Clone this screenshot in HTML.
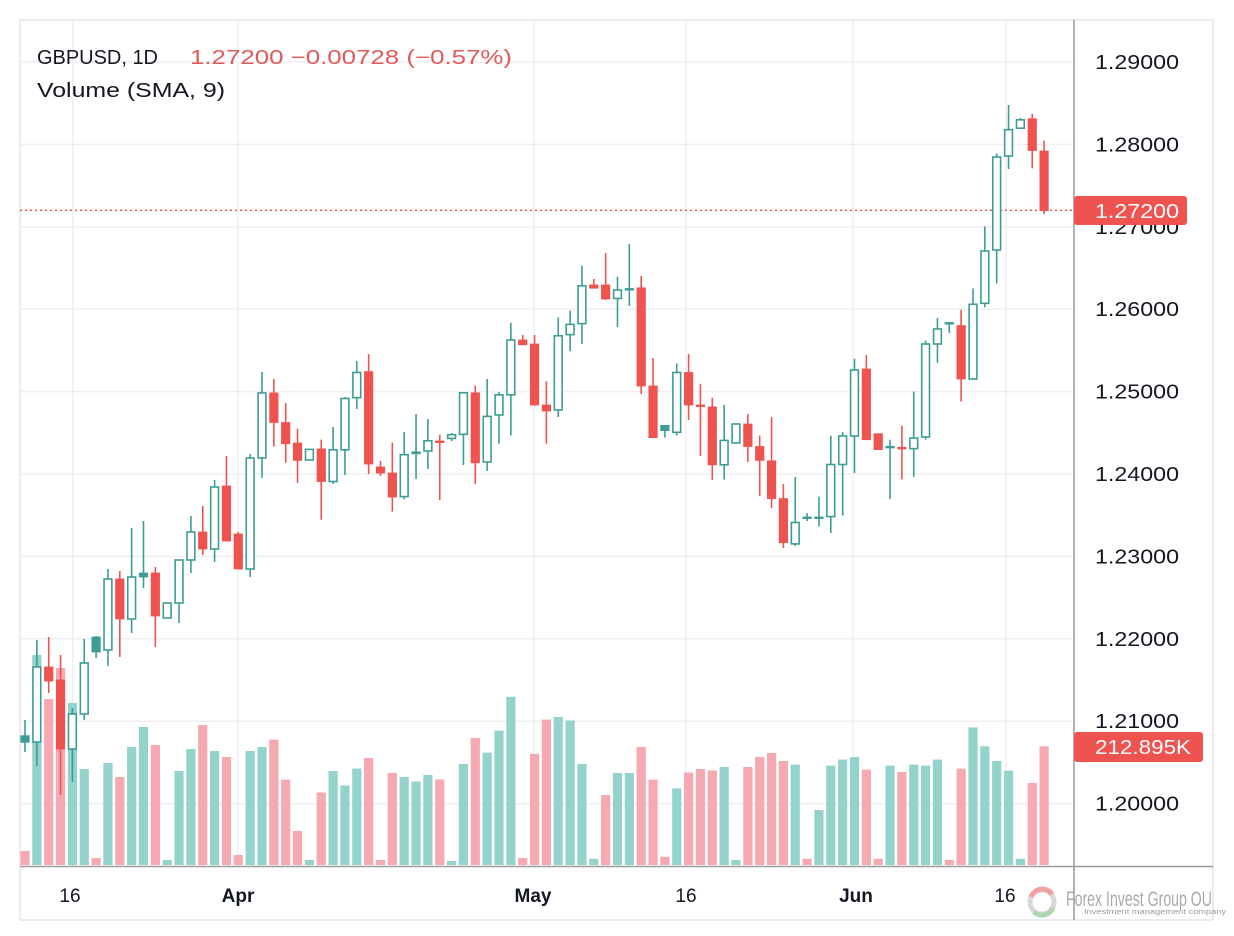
<!DOCTYPE html>
<html><head><meta charset="utf-8"><style>
html,body{margin:0;padding:0;background:#fff;}
svg{display:block;font-family:"Liberation Sans",sans-serif;}
</style></head><body>
<svg id="c" width="1234" height="936" xmlns="http://www.w3.org/2000/svg">
<rect width="1234" height="936" fill="#fff"/>
<g id="grid" stroke="#efefef" stroke-width="1.5"></g>
<rect x="20" y="20" width="1193" height="900" fill="none" stroke="#e6e6e6" stroke-width="1.5"/>
<g id="vol"></g>
<line x1="20" y1="210.3" x2="1074" y2="210.3" stroke="#e05050" stroke-width="1.3" stroke-dasharray="2,3"/>
<g id="cdl"></g>
<line x1="1074" y1="20" x2="1074" y2="920" stroke="#9a9a9a" stroke-width="1.5"/>
<line x1="20" y1="866.5" x2="1213" y2="866.5" stroke="#9a9a9a" stroke-width="1.5"/>
<g id="ax" font-size="20" fill="#131722"></g>
<rect x="1074" y="196" width="113" height="29" rx="3" fill="#ef5350"/>
<text x="1095" y="218" font-size="20" fill="#fff" textLength="84" lengthAdjust="spacingAndGlyphs">1.27200</text>
<rect x="1074" y="732" width="129" height="30" rx="3" fill="#ef5350"/>
<text x="1095" y="754" font-size="20" fill="#fff" textLength="96" lengthAdjust="spacingAndGlyphs">212.895K</text>
<g font-size="19" fill="#131722" text-anchor="middle">
<text x="70" y="902">16</text>
<text x="238" y="902" font-weight="bold">Apr</text>
<text x="533" y="902" font-weight="bold">May</text>
<text x="686" y="902">16</text>
<text x="856" y="902" font-weight="bold">Jun</text>
<text x="1005" y="902">16</text>
</g>
<text x="37" y="64" font-size="20" fill="#131722" textLength="121" lengthAdjust="spacingAndGlyphs">GBPUSD, 1D</text>
<text x="190" y="64" font-size="20" fill="#e05a5a" textLength="322" lengthAdjust="spacingAndGlyphs">1.27200  −0.00728 (−0.57%)</text>
<text x="37" y="97" font-size="20" fill="#131722" textLength="188" lengthAdjust="spacingAndGlyphs">Volume (SMA, 9)</text>
<g opacity="0.8">
<circle cx="1042" cy="902" r="12" fill="none" stroke="#cfcfcf" stroke-width="5"/>
<path d="M1031 897 A12 12 0 0 1 1052 894" fill="none" stroke="#e88" stroke-width="5"/>
<path d="M1053 908 A12 12 0 0 1 1034 912" fill="none" stroke="#9c9" stroke-width="5"/>
</g>
<text x="1066" y="906" font-size="21" fill="#aaa" textLength="146" lengthAdjust="spacingAndGlyphs">Forex Invest Group OU</text>
<text x="1084" y="914" font-size="7.5" fill="#999" textLength="142" lengthAdjust="spacingAndGlyphs">Investment management company</text>
</svg>
<script>
var D=`g 735.7 742.3 720 752 851 p
h 667 742 640 766 655 t
r 667 681 637 693 699 p
r 680 749 655 795 668 p
h 714 749 708 782 703 t
h 663 714 639 720 769 t
g 637 652 636 658 858 p
h 579 650 569 666 763 t
r 579 619 571 657 777 p
h 577 619 528 633 747 t
g 573 577 521 588 727 t
r 573 616 567 647 745 p
h 603 618 603 618 860 t
h 560 603 560 623 771 t
h 532 560 516 573 749 t
r 532 549 506 555 725 p
h 487 549 480 562 751 t
r 486 541 456 541 757 p
r 534 569 532 569 855 p
h 458 569 454 577 751 t
h 393 458 372 478 747 t
r 393 422.5 379 446.5 739.6 p
r 422.5 443.7 403 462.8 779.5 p
r 443 460.4 428.6 483 831 p
h 449.4 460 449.4 460 860 t
r 449 481.5 439.6 519.8 792.5 p
h 449.8 481.5 427 484 771 t
h 398.5 449.8 397 475 785.5 t
h 372.5 397.7 361 409 768.5 t
r 371.6 464 354 474 758 p
r 467 473 460.8 476 860 p
r 473 497 442.5 511.6 773 p
h 454.7 496.6 432 499.4 777 t
g 451.8 453.8 414 479 781.5 t
h 440.8 451 419 469 775 t
r 441 442.5 434.7 500 779.5 p
h 434.7 438.4 433 441 861 t
h 392.8 434.3 392.8 465 764 t
r 392.8 462.8 385.5 484 738 p
h 416.4 462 379 471 752.6 t
h 394.8 415 392 443.7 730.6 t
h 340 394.8 322.8 435.5 696.8 t
r 340 344.8 335 345 858 p
r 344 405 335 405.8 753.8 p
r 405 411 381.4 443.7 719.6 p
h 335.8 410 317.5 417 717 t
h 324.4 334.6 310.6 351.3 720.4 t
h 285.8 323.6 265.8 344 764 t
r 285 288.2 279 288.2 858.8 t
r 285 299 253 300 795 p
h 290 298.4 276.8 327 773 t
g 288.5 290 244 306 773 t
r 287.8 386 276 394 747 p
r 386 437.6 358 437.6 779.5 p
g 425.4 430.6 425.4 437.6 856.8 p
h 372.5 432.3 363.5 435.5 788.4 t
r 372.5 405 354 420 772.5 p
r 405 406.5 383.8 456 769 p
r 407 464.8 397.7 480 770.5 p
h 440.4 464.8 405 479.5 767 t
h 424 443 424 443 860 t
r 424 446.5 414 462 767 p
r 446.5 460.4 435.5 495.8 757 p
r 460.8 498.6 417 508 753 p
r 498.6 542.6 484 548 761 p
h 522.5 543.9 477 546 764.6 t
g 517 518.5 513 521 858.8 p
g 517 518.5 496.7 526.5 810 t
h 464.5 516.6 435.7 533 765.6 t
h 436 464.5 432 515.6 759.6 t
h 370 436 358.8 473 757 t
r 369 439.7 355 439.7 769.6 p
r 433.7 449.6 433.7 449.6 858.8 p
g 446.3 447.8 439.7 499 765.6 t
r 447.3 448.8 425.8 479.4 772 p
h 438 448.6 391.6 477 764.6 t
h 344 437 340.5 439.7 765.6 t
h 329 344 318 362.8 759.6 t
g 322.5 324 322.5 333 860 p
r 325.6 379 309.7 401.5 768.6 p
h 304.3 379 288.4 379 727.4 t
h 251 303.3 226.4 307.3 746.3 t
h 157 250 153.5 283.5 761 t
h 129.7 156 105 169 770.6 t
h 119.8 128.2 118 129 858.8 t
r 118.8 150.5 113.8 168.4 783 p
r 151 210.5 140.6 214 746.3 p`;
var NS="http://www.w3.org/2000/svg";
function el(p,n,a){var e=document.createElementNS(NS,n);for(var k in a)e.setAttribute(k,a[k]);p.appendChild(e);return e;}
var grid=document.getElementById('grid'),vol=document.getElementById('vol'),cdl=document.getElementById('cdl'),ax=document.getElementById('ax');
for(var i=0;i<=10;i++){var y=62+i*82.4;if(y<866)el(grid,'line',{x1:20,y1:y,x2:1074,y2:y});}
[72.7,238,534,686,853,1006].forEach(function(x){el(grid,'line',{x1:x,y1:20,x2:x,y2:866});});
for(var i=0;i<10;i++){var y=62+i*82.4;var t=el(ax,'text',{x:1095,y:y+7,textLength:84,lengthAdjust:'spacingAndGlyphs'});t.textContent=(1.29-i*0.01).toFixed(5);}
var TE='#3d9d95',RE='#ef5350';
D.split('\n').forEach(function(l,i){var a=l.trim().split(/\s+/);var x=25+11.85*i;
var bt=+a[1],bb=+a[2],wt=+a[3],wb=+a[4],vt=+a[5];
el(vol,'rect',{x:x-4.6,y:vt,width:9.2,height:865-vt,fill:a[6]=='t'?'#93d3cb':'#f6a9b0'});
var c=a[0]=='r'?RE:TE;
el(cdl,'line',{x1:x,y1:wt,x2:x,y2:wb,stroke:c,'stroke-width':1.6});
var h=Math.max(bb-bt,1.6);
if(a[0]=='h')el(cdl,'rect',{x:x-3.9,y:bt,width:7.8,height:h,fill:'#fff',stroke:c,'stroke-width':1.6});
else el(cdl,'rect',{x:x-4.6,y:bt-0.4,width:9.2,height:h+0.8,fill:c});
});
</script>
</body></html>
